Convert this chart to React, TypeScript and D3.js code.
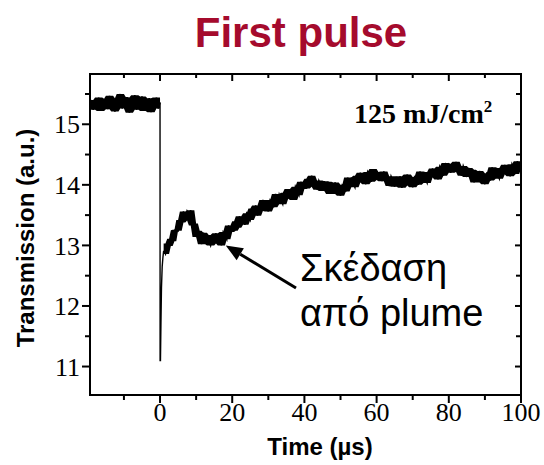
import React from "react";
import * as d3 from "d3";

const title = "First pulse";
const fluenceLabel = "125 mJ/cm";
const annotationLines = ["Σκέδαση", "από plume"];

const xMajorTicks = [0, 20, 40, 60, 80, 100];
const xMinorTicks = [-10, 10, 30, 50, 70, 90];
const yMajorTicks = [11, 12, 13, 14, 15];
const yMinorTicks = [11.5, 12.5, 13.5, 14.5, 15.5];

// Pre-pulse trace, t = -19.5 .. 0 µs, step 0.5
const preValues = [
  15.30, 15.40, 15.24, 15.38, 15.27, 15.44, 15.22, 15.36, 15.29, 15.42,
  15.25, 15.47, 15.31, 15.39, 15.21, 15.43, 15.33, 15.50, 15.26, 15.45,
  15.30, 15.41, 15.19, 15.44, 15.28, 15.48, 15.24, 15.40, 15.32, 15.46,
  15.22, 15.39, 15.27, 15.43, 15.20, 15.41, 15.29, 15.44, 15.26, 15.36,
];

// The drop at the pulse and the fast recovery
const spikeTimes = [0.02, 0.12, 0.25, 0.4, 0.6, 0.8];
const spikeValues = [11.1, 11.1, 11.7, 12.3, 12.65, 12.8];

// Post-pulse trace, t = 1 .. 100 µs, step 0.5
const postValues = [
  12.91, 12.86, 13.03, 12.99, 13.11, 13.07, 13.25, 13.26, 13.24, 13.42,
  13.38, 13.56, 13.41, 13.56, 13.49, 13.58, 13.33, 13.36, 13.14, 13.24,
  13.15, 13.02, 13.21, 13.03, 13.17, 13.07, 13.00, 13.17, 13.06, 13.20,
  13.03, 13.16, 13.00, 13.22, 13.17, 13.10, 13.33, 13.22, 13.33, 13.24,
  13.40, 13.29, 13.48, 13.37, 13.46, 13.34, 13.53, 13.49, 13.42, 13.61,
  13.50, 13.66, 13.49, 13.65, 13.60, 13.75, 13.57, 13.69, 13.56, 13.75,
  13.72, 13.63, 13.85, 13.69, 13.84, 13.75, 13.68, 13.87, 13.77, 13.93,
  13.77, 13.91, 13.75, 13.97, 13.90, 13.83, 14.05, 13.93, 14.04, 13.94,
  14.10, 13.97, 14.15, 14.01, 14.07, 13.92, 14.07, 14.00, 13.90, 14.06,
  13.92, 14.05, 13.85, 13.99, 13.92, 14.04, 13.85, 13.95, 13.82, 14.00,
  13.98, 13.89, 14.12, 13.96, 14.12, 14.03, 13.96, 14.15, 14.05, 14.20,
  14.04, 14.17, 14.01, 14.21, 14.14, 14.05, 14.26, 14.12, 14.21, 14.08,
  14.21, 14.06, 14.22, 14.07, 14.13, 13.98, 14.14, 14.07, 13.97, 14.13,
  14.00, 14.14, 13.95, 14.09, 14.04, 14.17, 13.99, 14.09, 13.96, 14.13,
  14.10, 14.00, 14.22, 14.05, 14.20, 14.10, 14.03, 14.21, 14.12, 14.27,
  14.12, 14.25, 14.09, 14.30, 14.23, 14.15, 14.36, 14.22, 14.32, 14.20,
  14.35, 14.21, 14.38, 14.24, 14.30, 14.15, 14.31, 14.23, 14.13, 14.28,
  14.13, 14.25, 14.04, 14.17, 14.10, 14.23, 14.04, 14.14, 14.01, 14.19,
  14.16, 14.07, 14.29, 14.12, 14.27, 14.17, 14.10, 14.28, 14.18, 14.33,
  14.17, 14.30, 14.14, 14.34, 14.27, 14.18, 14.39, 14.26, 14.36,
];

const arrowTip = [18.2, 13.0];

const W = 544;
const H = 465;
const plot = { left: 90, right: 521, top: 74, bottom: 395 };

type Pt = [number, number];

// Envelope of the sampled trace: min/max over each sample and its two neighbours on each side
function envelope(pts: Pt[]) {
  return pts.map((p, i) => {
    const win = pts.slice(Math.max(0, i - 2), Math.min(pts.length, i + 3)).map((q) => q[1]);
    return { t: p[0], lo: d3.min(win) as number, hi: d3.max(win) as number };
  });
}

export default function App() {
  const x = d3.scaleLinear().domain([-19.4, 100]).range([plot.left, plot.right]);
  const y = d3.scaleLinear().domain([10.53, 15.83]).range([plot.bottom, plot.top]);

  const preData: Pt[] = preValues.map((v, i) => [-19.5 + i * 0.5, v]);
  const postData: Pt[] = postValues.map((v, i) => [1 + i * 0.5, v]);
  const spikeData: Pt[] = [
    preData[preData.length - 1],
    ...spikeTimes.map((t, i) => [t, spikeValues[i]] as Pt),
    postData[0],
  ];
  const line = d3
    .line<Pt>()
    .x((d) => x(d[0]))
    .y((d) => y(d[1]));
  const area = d3
    .area<{ t: number; lo: number; hi: number }>()
    .x((d) => x(d.t))
    .y0((d) => y(d.lo))
    .y1((d) => y(d.hi));

  const tipX = x(arrowTip[0]);
  const tipY = y(arrowTip[1]);
  const tailX = 296;
  const tailY = 288;
  const ang = Math.atan2(tailY - tipY, tailX - tipX);
  const headLen = 17;
  const headW = 7;
  const bx = tipX + headLen * Math.cos(ang);
  const by = tipY + headLen * Math.sin(ang);
  const px = -Math.sin(ang) * headW;
  const py = Math.cos(ang) * headW;

  const serif = "'Liberation Serif', 'Times New Roman', serif";
  const sans = "'Liberation Sans', Arial, sans-serif";

  return (
    <svg width={W} height={H} style={{ position: "absolute", left: 0, top: 0, background: "#fff" }}>
      <defs>
        <clipPath id="plotclip">
          <rect x={plot.left} y={plot.top} width={plot.right - plot.left} height={plot.bottom - plot.top} />
        </clipPath>
      </defs>
      <rect x={0} y={0} width={W} height={H} fill="#fff" />
      <text x={301} y={47} textAnchor="middle" fontFamily={sans} fontWeight="bold" fontSize={42} fill="#A50B2D">
        {title}
      </text>

      <g clipPath="url(#plotclip)">
        <path d={area(envelope(preData)) || ""} fill="#000" />
        <path d={area(envelope(postData)) || ""} fill="#000" />
        <g fill="none" stroke="#000" strokeLinejoin="miter">
          <path d={line(preData) || ""} strokeWidth={1.6} />
          <path d={line(spikeData) || ""} strokeWidth={1.4} />
          <path d={line(postData) || ""} strokeWidth={1.6} />
        </g>
      </g>

      {/* frame */}
      <rect x={plot.left} y={plot.top} width={plot.right - plot.left} height={plot.bottom - plot.top} fill="none" stroke="#000" strokeWidth={2} />

      {xMajorTicks.map((t) => (
        <g key={"xm" + t}>
          <line x1={x(t)} x2={x(t)} y1={plot.bottom} y2={plot.bottom + 8} stroke="#000" strokeWidth={2} />
          <line x1={x(t)} x2={x(t)} y1={plot.top} y2={plot.top + 7} stroke="#000" strokeWidth={2} />
          <text x={x(t)} y={421} textAnchor="middle" fontFamily={serif} fontSize={26}>
            {t}
          </text>
        </g>
      ))}
      {xMinorTicks.map((t) => (
        <g key={"xn" + t}>
          <line x1={x(t)} x2={x(t)} y1={plot.bottom} y2={plot.bottom + 5} stroke="#000" strokeWidth={2} />
          <line x1={x(t)} x2={x(t)} y1={plot.top} y2={plot.top + 4} stroke="#000" strokeWidth={2} />
        </g>
      ))}
      {yMajorTicks.map((v) => (
        <g key={"ym" + v}>
          <line x1={plot.left - 8} x2={plot.left} y1={y(v)} y2={y(v)} stroke="#000" strokeWidth={2} />
          <line x1={plot.right - 6} x2={plot.right} y1={y(v)} y2={y(v)} stroke="#000" strokeWidth={2} />
          <text x={80} y={y(v)} dy="0.35em" textAnchor="end" fontFamily={serif} fontSize={26}>
            {v}
          </text>
        </g>
      ))}
      {yMinorTicks.map((v) => (
        <g key={"yn" + v}>
          <line x1={plot.left - 5} x2={plot.left} y1={y(v)} y2={y(v)} stroke="#000" strokeWidth={2} />
          <line x1={plot.right - 5} x2={plot.right} y1={y(v)} y2={y(v)} stroke="#000" strokeWidth={2} />
        </g>
      ))}

      <text x={320} y={455} textAnchor="middle" fontFamily={sans} fontWeight="bold" fontSize={24}>
        Time (µs)
      </text>
      <text transform="translate(34,238) rotate(-90)" textAnchor="middle" fontFamily={sans} fontWeight="bold" fontSize={24}>
        Transmission (a.u.)
      </text>

      <text x={354} y={123} fontFamily={serif} fontWeight="bold" fontSize={28}>
        {fluenceLabel}
        <tspan fontSize={17} dy={-11}>2</tspan>
      </text>

      {annotationLines.map((s, i) => (
        <text key={s} x={300} y={281 + i * 45} fontFamily={sans} fontSize={38}>
          {s}
        </text>
      ))}

      <line x1={tailX} y1={tailY} x2={bx} y2={by} stroke="#000" strokeWidth={3} />
      <polygon points={`${tipX},${tipY} ${bx + px},${by + py} ${bx - px},${by - py}`} fill="#000" />
    </svg>
  );
}
